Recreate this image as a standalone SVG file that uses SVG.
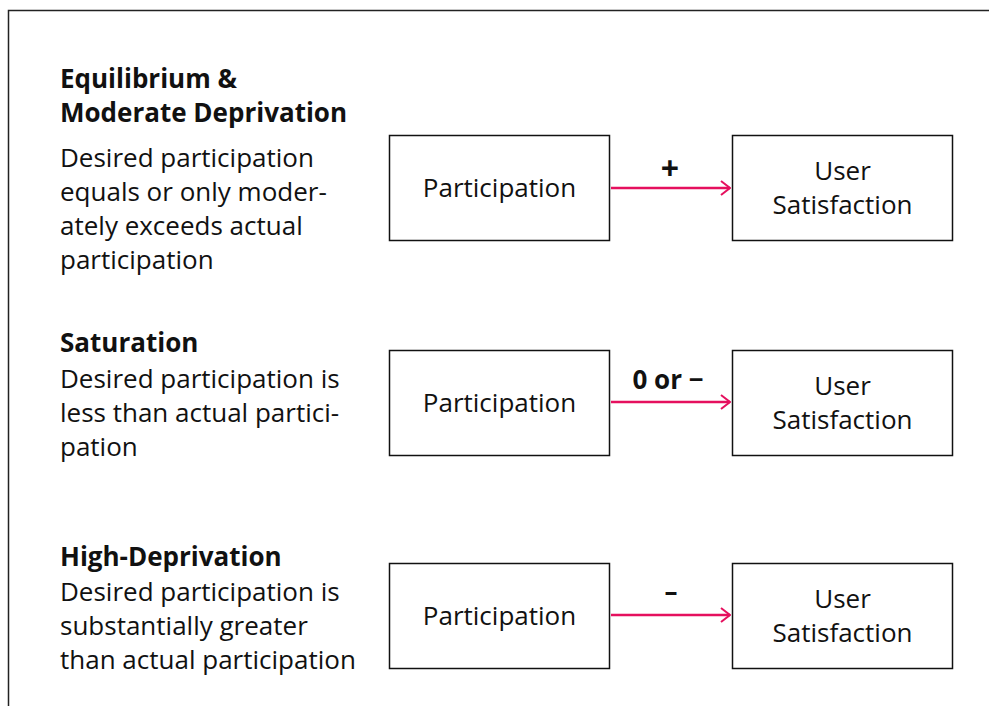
<svg xmlns="http://www.w3.org/2000/svg" width="989" height="706" viewBox="0 0 989 706">
<defs>
<marker id="arr" viewBox="0 0 12 16" refX="11" refY="8" markerWidth="12" markerHeight="16" markerUnits="userSpaceOnUse" orient="auto">
<path d="M2,1 L11,8 L2,15" fill="none" stroke="#e5105e" stroke-width="2"/>
</marker>
<style>
text{font-family:"Open Sans","Noto Sans",sans-serif;fill:#111;}
.h{font-size:26px;font-weight:bold;}
.b{font-size:26px;}
.n{font-size:26px;text-anchor:middle;}
.l{font-size:26px;font-weight:bold;text-anchor:middle;}
.box{fill:#fff;stroke:#111;stroke-width:1.5;}
.c{stroke:#e5105e;stroke-width:2.5;fill:none;}
</style>
</defs>
<rect width="989" height="706" fill="#fff"/>
<path d="M8.5,720 L8.5,10.5 L1000,10.5" fill="none" stroke="#222" stroke-width="1.5"/>

<g id="text1">
<text class="h" x="60" y="88">Equilibrium &amp;</text>
<text class="h" x="60" y="122">Moderate Deprivation</text>
<text class="b" x="60" y="167">Desired participation</text>
<text class="b" x="60" y="201">equals or only moder-</text>
<text class="b" x="60" y="235">ately exceeds actual</text>
<text class="b" x="60" y="269">participation</text>
</g>
<g id="text2">
<text class="h" x="60" y="352">Saturation</text>
<text class="b" x="60" y="388">Desired participation is</text>
<text class="b" x="60" y="422">less than actual partici-</text>
<text class="b" x="60" y="456">pation</text>
</g>
<g id="text3">
<text class="h" x="60" y="566">High-Deprivation</text>
<text class="b" x="60" y="601">Desired participation is</text>
<text class="b" x="60" y="635">substantially greater</text>
<text class="b" x="60" y="669">than actual participation</text>
</g>

<g id="p1"><rect class="box" x="389.5" y="135.5" width="220" height="105"/><text class="n" x="499.5" y="197">Participation</text></g>
<g id="u1"><rect class="box" x="732.5" y="135.5" width="220" height="105"/><text class="n" x="842.5" y="180">User</text><text class="n" x="842.5" y="214">Satisfaction</text></g>
<g id="p2"><rect class="box" x="389.5" y="350.5" width="220" height="105"/><text class="n" x="499.5" y="412">Participation</text></g>
<g id="u2"><rect class="box" x="732.5" y="350.5" width="220" height="105"/><text class="n" x="842.5" y="395">User</text><text class="n" x="842.5" y="429">Satisfaction</text></g>
<g id="p3"><rect class="box" x="389.5" y="563.5" width="220" height="105"/><text class="n" x="499.5" y="625">Participation</text></g>
<g id="u3"><rect class="box" x="732.5" y="563.5" width="220" height="105"/><text class="n" x="842.5" y="608">User</text><text class="n" x="842.5" y="642">Satisfaction</text></g>

<g id="connectors">
<line class="c" x1="611" y1="188" x2="730" y2="188" marker-end="url(#arr)"/>
<text class="l" x="670" y="180" style="font-size:32px">+</text>
<line class="c" x1="611" y1="402" x2="730" y2="402" marker-end="url(#arr)"/>
<text class="l" x="668" y="389">0 or −</text>
<line class="c" x1="611" y1="615" x2="730" y2="615" marker-end="url(#arr)"/>
<text class="l" x="671" y="601">–</text>
</g>
</svg>
